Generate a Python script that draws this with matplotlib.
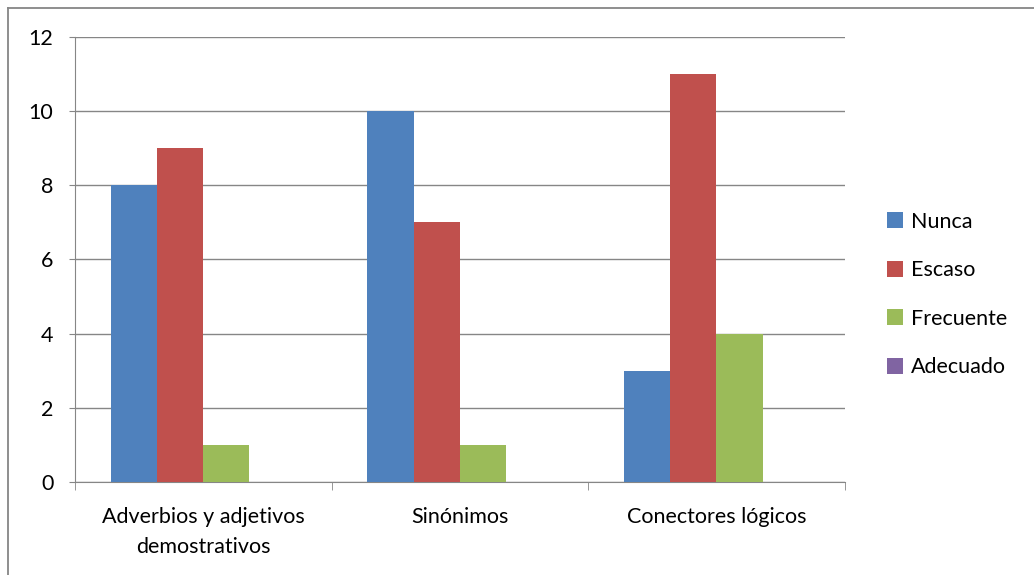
import matplotlib.pyplot as plt
import numpy as np
from matplotlib.lines import Line2D

categorias = ['Adverbios y adjetivos\ndemostrativos', 'Sinónimos', 'Conectores lógicos']
series = ['Nunca', 'Escaso', 'Frecuente', 'Adecuado']
nunca = [8, 10, 3]
escaso = [9, 7, 11]
frecuente = [1, 1, 4]
adecuado = [0, 0, 0]
colores = ['#4F81BD', '#C0504D', '#9BBB59', '#8064A2']

plt.rcParams['font.family'] = ['Lato', 'DejaVu Sans']
fs = 15.5

fig = plt.figure(figsize=(10.34, 5.75), dpi=100)
ax = fig.add_axes([0.0725, 0.1617, 0.7445, 0.774])

x = np.arange(len(categorias))
w = 0.18
datos = [nunca, escaso, frecuente, adecuado]
for i, (d, s) in enumerate(zip(datos, series)):
    ax.bar(x + (i - 1.5) * w, d, w, color=colores[i], label=s, zorder=3)

ax.set_xlim(-0.5, 2.5)
ax.set_ylim(0, 12)
ax.set_yticks(range(0, 13, 2))
ax.yaxis.grid(True, color='#868686', linewidth=1, zorder=0)
ax.set_xticks(x)
ax.set_xticklabels(categorias, fontsize=fs, linespacing=1.62)
ax.set_xticks([-0.5, 0.5, 1.5, 2.5], minor=True)
ax.tick_params(axis='x', which='major', length=0, pad=18)
ax.tick_params(axis='x', which='minor', length=6, color='#868686')
ax.tick_params(axis='y', length=4.5, color='#868686', labelsize=fs, pad=11)
for sp in ['top', 'right']:
    ax.spines[sp].set_visible(False)
for sp in ['left', 'bottom']:
    ax.spines[sp].set_color('#868686')

fig.legend(*ax.get_legend_handles_labels(), loc='center left',
           bbox_to_anchor=(887 / 1034, 1 - 294.5 / 575), frameon=False,
           fontsize=fs, handlelength=0.75, handleheight=0.75, handletextpad=0.35,
           labelspacing=1.32, borderaxespad=0, borderpad=0)

# marco del gráfico (solo visible arriba e izquierda)
fig.add_artist(Line2D([8 / 1034, 8 / 1034], [0, 1 - 8 / 575], transform=fig.transFigure,
                      color='#868686', linewidth=1.3))
fig.add_artist(Line2D([8 / 1034, 1], [1 - 8 / 575, 1 - 8 / 575], transform=fig.transFigure,
                      color='#868686', linewidth=1.3))
fig.savefig('out.png', dpi=100)
